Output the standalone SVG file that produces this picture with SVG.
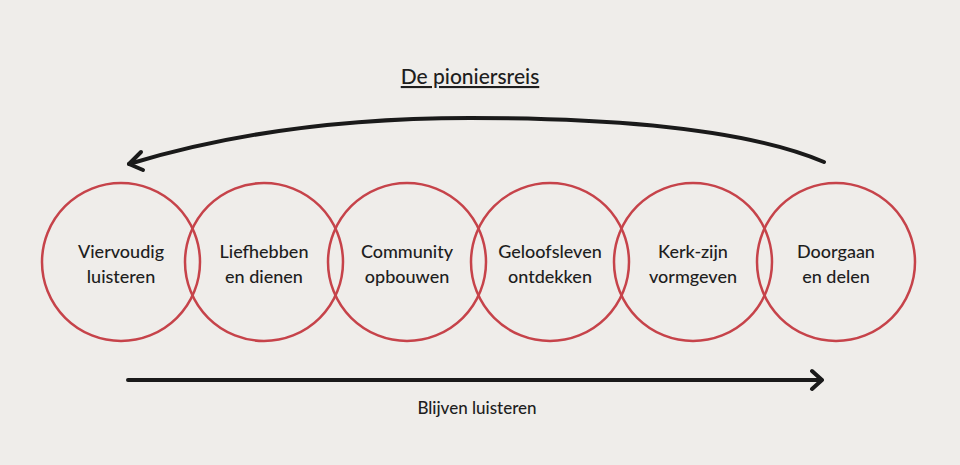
<svg xmlns="http://www.w3.org/2000/svg" width="960" height="465" viewBox="0 0 960 465">
<style>
.c{fill:none;stroke:#c6434a;stroke-width:2.5}
.t{font-family:"Lato","Liberation Sans",sans-serif;font-size:18px;font-weight:500;fill:#1e1e1e;text-anchor:middle}
.a{fill:none;stroke:#1a1a1a;stroke-width:4;stroke-linecap:round;stroke-linejoin:round}
</style>
<rect width="960" height="465" fill="#efedea"/>
<text x="470" y="84" class="t" style="font-size:21px" text-decoration="underline">De pioniersreis</text>
<g id="n1"><circle class="c" cx="121" cy="262" r="79"/><text class="t" x="121" y="258">Viervoudig</text><text class="t" x="121" y="283">luisteren</text></g>
<g id="n2"><circle class="c" cx="264" cy="262" r="79"/><text class="t" x="264" y="258">Liefhebben</text><text class="t" x="264" y="283">en dienen</text></g>
<g id="n3"><circle class="c" cx="407" cy="262" r="79"/><text class="t" x="407" y="258">Community</text><text class="t" x="407" y="283">opbouwen</text></g>
<g id="n4"><circle class="c" cx="550" cy="262" r="79"/><text class="t" x="550" y="258">Geloofsleven</text><text class="t" x="550" y="283">ontdekken</text></g>
<g id="n5"><circle class="c" cx="693" cy="262" r="79"/><text class="t" x="693" y="258">Kerk-zijn</text><text class="t" x="693" y="283">vormgeven</text></g>
<g id="n6"><circle class="c" cx="836" cy="262" r="79"/><text class="t" x="836" y="258">Doorgaan</text><text class="t" x="836" y="283">en delen</text></g>
<g id="connectors">
<path class="a" d="M824 162 Q 720 118 470 118 Q 280 118 129 164"/>
<path class="a" d="M141 152 L129 164 L143 170"/>
<path class="a" d="M128 380 L822 380 M812 371 L822 380 L812 389"/>
</g>
<text class="t" x="477" y="414" style="font-size:17px">Blijven luisteren</text>
</svg>
